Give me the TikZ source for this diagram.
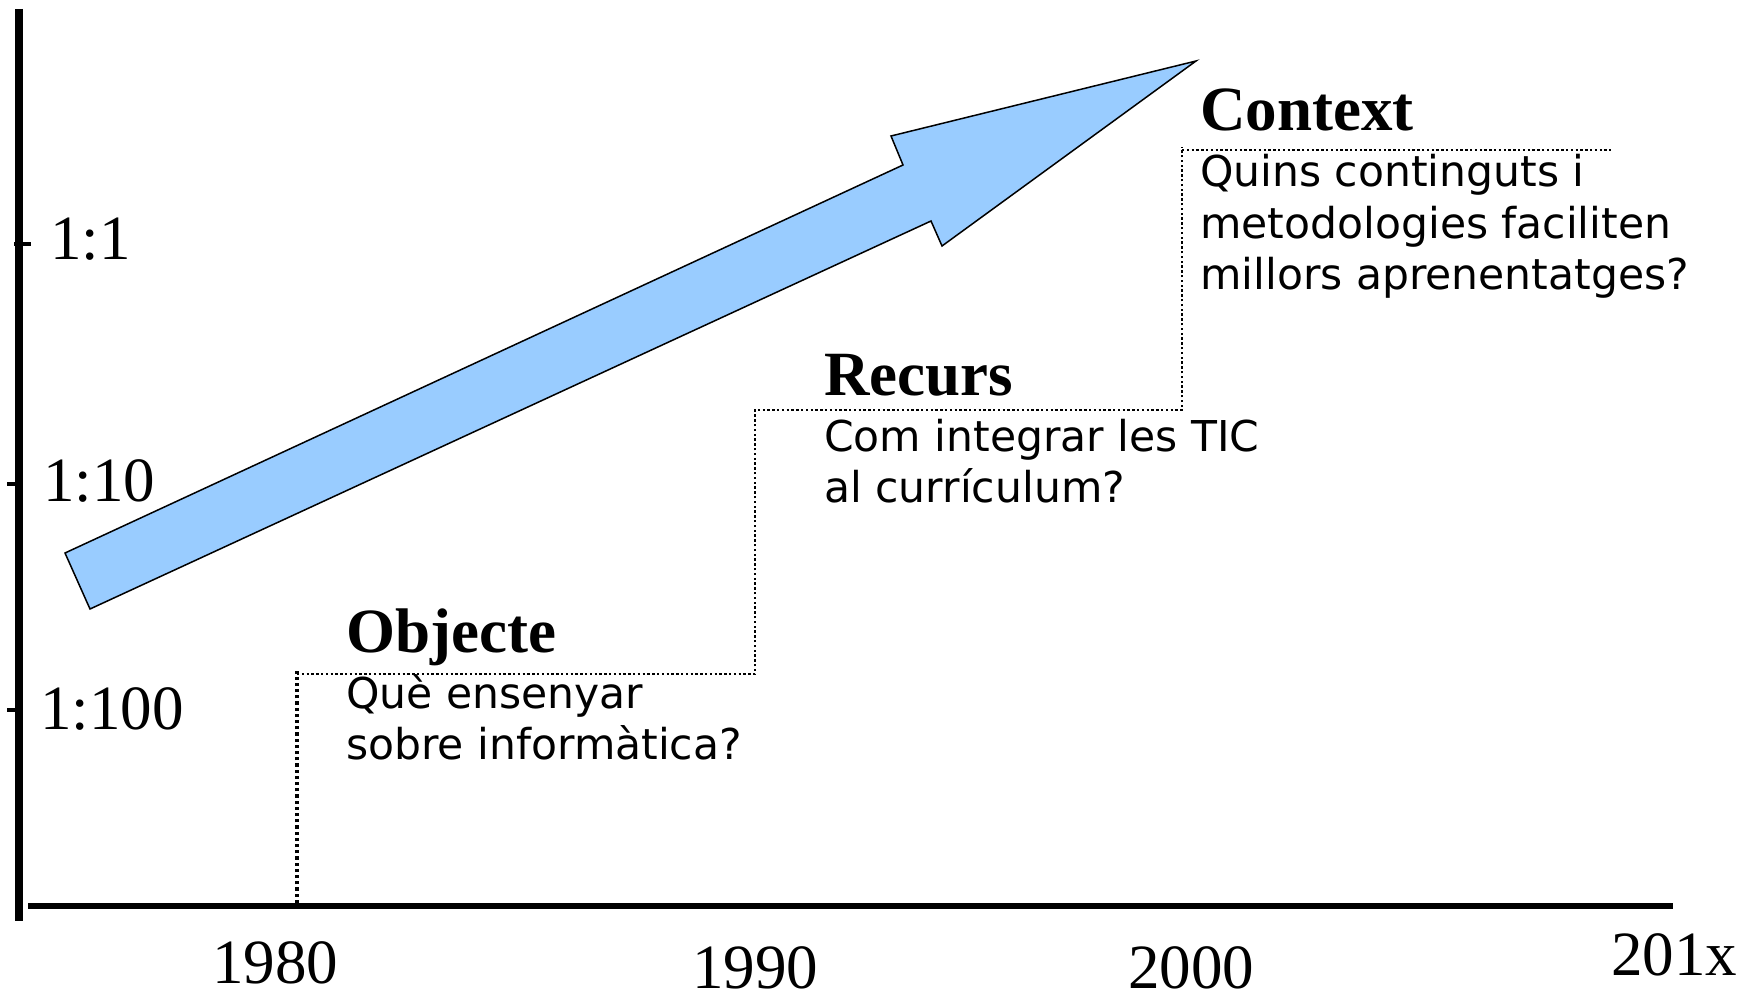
\documentclass[tikz,border=0pt]{standalone}
\usepackage{fontspec}
\setmainfont{Liberation Serif}
\newfontfamily\bodyfont{DejaVu Sans}
\usepackage{tikz}
\usetikzlibrary{positioning}
\definecolor{arrowblue}{HTML}{99CCFF}

\tikzset{
    scalelbl/.style={anchor=base west, inner sep=0pt, font=\fontsize{63}{70}\selectfont},
    yearlbl/.style={anchor=base, inner sep=0pt, font=\fontsize{63}{70}\selectfont},
    stagetitle/.style={anchor=base west, inner sep=0pt, font=\fontsize{63}{70}\selectfont\bfseries},
    stagetext/.style={anchor=base west, inner sep=0pt, align=left, font=\fontsize{42.5}{51}\selectfont\bodyfont},
    stepline/.style={line width=2.4pt, dash pattern=on 2.4pt off 2.4pt, black}
}

\begin{document}
\begin{tikzpicture}[x=1pt, y=-1pt]
    \useasboundingbox (0,0) rectangle (1758,992);

    % axes
    \draw [line width=8pt] (19,9) -- (19,921);
    \draw [line width=6.5pt] (28,906) -- (1673,906);
    \draw [line width=4.5pt] (14,244) -- (31,244);
    \draw [line width=4.5pt] (7,484) -- (19,484);
    \draw [line width=4.5pt] (7,710) -- (19,710);

    \node (s1) [scalelbl] at (50,260) {1:1};
    \node (s10) [scalelbl] at (43,501) {1:10};
    \node (s100) [scalelbl] at (40,729) {1:100};

    \node (y1980) [yearlbl] at (275,983) {1980};
    \node (y1990) [yearlbl] at (755,988) {1990};
    \node (y2000) [yearlbl] at (1191,988) {2000};
    \node (y201x) [yearlbl] at (1674,975) {201x};

    % big arrow
    \draw [fill=arrowblue, line width=1.5pt, line join=miter]
        (65,553) -- (903,165) -- (891,136) -- (1196,61) -- (942,246) -- (931,221) -- (90,609) -- cycle;

    % steps
    \draw [stepline, line width=3.2pt, dash pattern=on 3.2pt off 3pt] (297,903) -- (297,671);
    \draw [stepline] (297,674) -- (755,674) -- (755,410) -- (1182,410) -- (1182,147);
    \draw [stepline] (1182,150) -- (1611,150);

    \node (objecte) [stagetitle] at (346,652) {Objecte};
    \node (objq) [stagetext] at (346,759) {Què ensenyar\\sobre informàtica?};

    \node (recurs) [stagetitle] at (824,395) {Recurs};
    \node (recq) [stagetext] at (824,502) {Com integrar les TIC\\al currículum?};

    \node (context) [stagetitle] at (1200,131) {Context};
    \node (conq) [stagetext] at (1200,289) {Quins continguts i\\metodologies faciliten\\millors aprenentatges?};
\end{tikzpicture}
\end{document}
